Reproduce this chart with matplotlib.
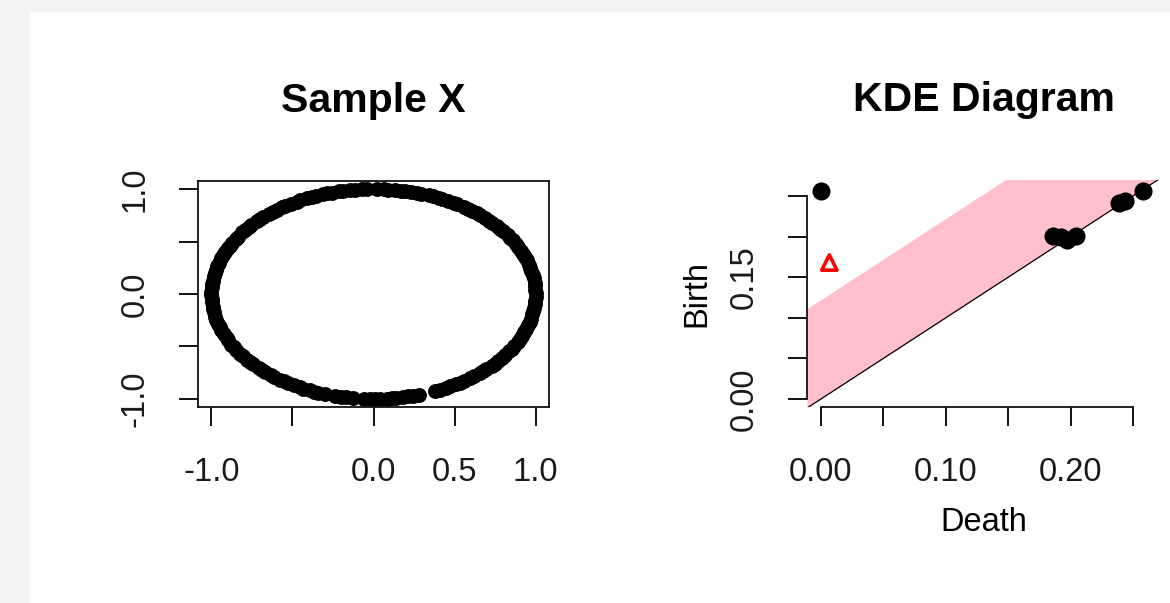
import matplotlib.pyplot as plt
import numpy as np
from matplotlib.patches import Rectangle

plt.rcParams['font.family'] = ['Liberation Sans', 'DejaVu Sans']

# Sample X: angles (degrees) of the sampled points on the unit circle
sample_angles = [
    0.4, 2.1, 4.5, 6.2, 8.8, 10.3, 12.9, 14.6, 16.2, 18.9, 20.5, 22.7, 24.1, 26.8, 28.3, 30.9,
    32.4, 34.2, 36.7, 38.5, 40.1, 42.8, 44.3, 46.6, 48.9, 50.2, 52.7, 54.4, 56.1, 58.8, 60.3,
    62.5, 64.9, 66.2, 68.6, 70.1, 72.8, 74.3, 76.5, 78.9, 80.4, 82.2, 84.7, 86.3, 88.9, 92.4,
    94.1, 96.6, 98.2, 100.8, 102.3, 104.9, 106.5, 108.1, 110.7, 112.4, 114.2, 116.8, 118.3,
    120.6, 122.9, 124.2, 126.7, 128.4, 130.1, 132.8, 134.5, 136.2, 138.9, 140.4, 142.6, 144.1,
    146.8, 148.3, 150.9, 152.5, 154.2, 156.7, 158.4, 160.1, 162.8, 164.3, 166.9, 168.5, 170.2,
    172.7, 174.4, 176.1, 178.8, 180.3, 182.6, 184.2, 186.9, 188.4, 190.1, 192.7, 194.3, 196.8,
    198.5, 200.2, 202.6, 204.9, 206.3, 208.8, 210.4, 212.1, 214.7, 216.3, 218.9, 220.5, 222.2,
    224.8, 226.4, 228.1, 230.7, 232.3, 234.9, 236.4, 238.2, 240.6, 242.9, 244.3, 246.8, 248.4,
    250.1, 252.6, 256.4, 258.5, 260.2, 262.6, 266.6, 268.9, 270.5, 272.3, 274.8, 276.4, 278.1,
    280.6, 282.4, 284.2, 286.3, 292.2, 294.1, 296.7, 298.3, 300.8, 302.4, 304.1, 306.7, 308.2,
    310.9, 312.5, 314.1, 316.8, 318.4, 320.2, 322.7, 324.3, 326.9, 328.5, 330.1, 332.8, 334.4,
    336.2, 338.7, 340.3, 342.9, 344.5, 346.1, 348.8, 350.4, 352.2, 354.7, 356.3, 358.6,
]
sample_ticks = [-1.0, -0.5, 0.0, 0.5, 1.0]
sample_xticklabels = ['-1.0', '', '0.0', '0.5', '1.0']
sample_yticklabels = ['-1.0', '', '0.0', '', '1.0']

# KDE diagram: dimension 0 features (dots) and dimension 1 feature (triangle)
dim0_death = [0.0, 0.1857, 0.1923, 0.1969, 0.2043, 0.2390, 0.2436, 0.2583]
dim0_birth = [0.2565, 0.2007, 0.1995, 0.1958, 0.2007, 0.2410, 0.2438, 0.2565]
dim1_death = [0.0067]
dim1_birth = [0.168]
band_width = 0.1224
kde_ticks = [0.0, 0.05, 0.10, 0.15, 0.20, 0.25]
kde_xticklabels = ['0.00', '', '0.10', '', '0.20', '']
kde_yticklabels = ['0.00', '', '', '0.15', '', '']

W, H = 1170, 603
fig = plt.figure(figsize=(W / 100, H / 100), dpi=100, facecolor='white')
# grey frame of the viewer around the plot
fig.patches.append(Rectangle((0, 0), 28 / W, 1, transform=fig.transFigure, color='#f3f3f3', zorder=-10))
fig.patches.append(Rectangle((0, 1 - 11 / H), 1, 11 / H, transform=fig.transFigure, color='#f3f3f3', zorder=-10))

tick_fs = 23.5
title_fs = 29.5


def style_axis(ax):
    ax.tick_params(length=14, width=1.4, pad=22, labelsize=tick_fs, color='#111111', labelcolor='#1a1a1a')
    ax.tick_params(axis='y', pad=20)
    for lbl in ax.get_yticklabels():
        lbl.set_rotation(90)
        lbl.set_va('center')


# Left: Sample X
ax1 = fig.add_axes([198 / W, 1 - 407 / H, 351 / W, 226 / H])
theta = np.deg2rad(sample_angles)
ax1.scatter(np.cos(theta), np.sin(theta), s=115, c='black', linewidths=0)
ax1.set_xlim(-1.083, 1.083)
ax1.set_ylim(-1.077, 1.077)
ax1.set_xticks(sample_ticks)
ax1.set_xticklabels(sample_xticklabels)
ax1.set_yticks(sample_ticks)
ax1.set_yticklabels(sample_yticklabels)
for sp in ax1.spines.values():
    sp.set_linewidth(1.3)
    sp.set_color('#111111')
style_axis(ax1)
ax1.set_title('Sample X', fontsize=title_fs, fontweight='bold', pad=50)

# Right: KDE Diagram
ax2 = fig.add_axes([807 / W, 1 - 407 / H, 353 / W, 227 / H])
xlim = (-0.0112, 0.2716)
ylim = (-0.0099, 0.2697)
diag = np.array([min(xlim[0], ylim[0]), max(xlim[1], ylim[1])])
ax2.fill_between(diag, diag, diag + band_width, color='pink', linewidth=0, zorder=1)
ax2.plot(diag, diag, color='black', lw=0.9, zorder=2)
ax2.scatter(dim0_death, dim0_birth, s=170, c='black', linewidths=0, zorder=3)
ax2.scatter(dim1_death, dim1_birth, s=120, marker='^', facecolors='none', edgecolors='red',
            linewidths=2.6, zorder=3)
ax2.set_xlim(*xlim)
ax2.set_ylim(*ylim)
ax2.set_xticks(kde_ticks)
ax2.set_xticklabels(kde_xticklabels)
ax2.set_yticks(kde_ticks)
ax2.set_yticklabels(kde_yticklabels)
ax2.spines['top'].set_visible(False)
ax2.spines['right'].set_visible(False)
for side in ['left', 'bottom']:
    ax2.spines[side].set_bounds(0, 0.25)
    ax2.spines[side].set_linewidth(1.3)
    ax2.spines[side].set_color('#111111')
style_axis(ax2)
ax2.set_xlabel('Death', fontsize=tick_fs, labelpad=14)
ax2.set_ylabel('Birth', fontsize=tick_fs, labelpad=12)
ax2.set_title('KDE Diagram', fontsize=title_fs, fontweight='bold', pad=50)

fig.savefig('out.png', dpi=100)
